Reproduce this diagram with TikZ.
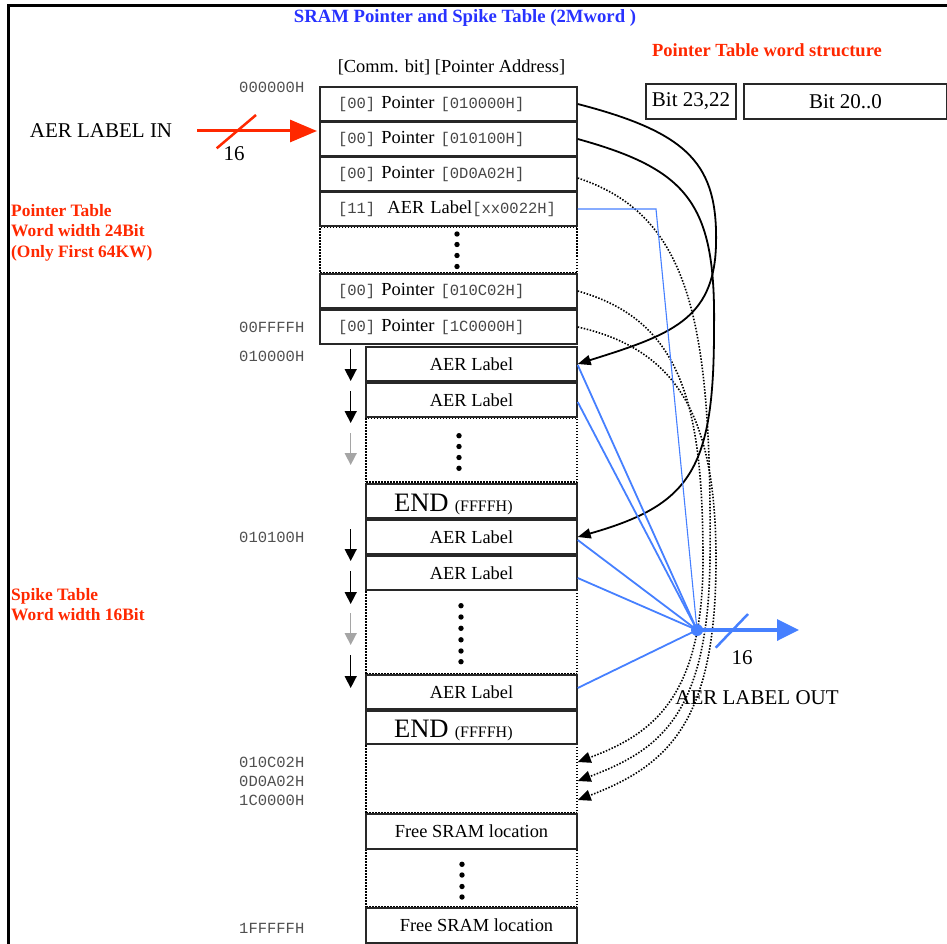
\documentclass[tikz,border=0pt]{standalone}
\usepackage{fontspec}
\setmainfont{Liberation Serif}
\setmonofont{Liberation Mono}
\usetikzlibrary{arrows.meta}
\definecolor{myred}{RGB}{255,40,0}
\definecolor{titleblue}{RGB}{40,50,255}
\definecolor{lineblue}{RGB}{70,128,255}
\definecolor{addrgray}{RGB}{80,80,80}
\definecolor{monogray}{RGB}{70,70,70}
\definecolor{boxline}{RGB}{40,40,40}
\definecolor{arrgray}{RGB}{165,165,165}
\newcommand{\mtt}[1]{{\ttfamily\fontsize{15.5}{17}\selectfont\color{monogray}#1}}
\begin{document}
\begin{tikzpicture}[x=1pt,y=-1pt,
  txt/.style={font=\fontsize{18.4}{21}\selectfont, inner sep=0pt},
  bigtxt/.style={font=\fontsize{21}{24}\selectfont, inner sep=0pt},
  addr/.style={font=\ttfamily\fontsize{15.5}{17}\selectfont, text=addrgray, anchor=west, inner sep=0pt},
  redhead/.style={font=\bfseries\fontsize{17.4}{20.7}\selectfont, text=myred, align=left, anchor=north west, inner sep=0pt},
  pcell/.style={draw=boxline, line width=1.4pt, minimum height=34pt, text width=221pt, inner xsep=18pt, inner ysep=0pt, align=left, font=\fontsize{18.4}{21}\selectfont},
  scell/.style={draw=boxline, line width=1.4pt, minimum height=34pt, minimum width=211pt, inner sep=0pt, font=\fontsize{18.4}{21}\selectfont},
  endcell/.style={scell, text width=155pt, inner xsep=28pt, inner ysep=0pt, align=left, text height=20pt, text depth=0pt},
  dcell/.style={draw=black, line width=1.5pt, dash pattern=on 1.5pt off 1.5pt, inner sep=0pt},
  bitbox/.style={draw=boxline, line width=1.3pt, minimum height=35pt, inner sep=0pt, font=\fontsize{21}{24}\selectfont},
  dnarrow/.style={line width=1.5pt, -{Triangle[length=12pt,width=12pt]}},
  ptrcurve/.style={line width=1.8pt, -{Triangle[length=13pt,width=10pt]}},
  dotcurve/.style={line width=1.6pt, dash pattern=on 1.5pt off 1.6pt, -{Triangle[length=13pt,width=11pt]}},
  fan/.style={draw=lineblue, line width=1.8pt},
  thinblue/.style={draw=lineblue, line width=1.1pt},
  redarrow/.style={draw=myred, line width=3pt, -{Triangle[length=27pt,width=22pt]}},
  outarrow/.style={draw=lineblue, line width=3.5pt, -{Triangle[length=22pt,width=21pt]}},
  slash/.style={line width=2.5pt}
]
\useasboundingbox (0,0) rectangle (947,944);
\draw[line width=2.7pt] (8.7,944) -- (8.7,5.3) -- (947,5.3);

% titles
\node[font=\bfseries\fontsize{18.7}{21}\selectfont, text=titleblue, inner sep=0pt] (title) at (465,18) {SRAM Pointer and Spike Table (2Mword )};
\node[font=\bfseries\fontsize{18.5}{21}\selectfont, text=myred, inner sep=0pt] (wstitle) at (767,50) {Pointer Table word structure};
\node[txt] (comm) at (451.5,67) {[Comm. bit] [Pointer Address]};
\node[bitbox, minimum width=90pt] (b1) at (691,101.5) {Bit 23,22};
\node[bitbox, minimum width=203pt] (b2) at (845.5,101.5) {Bit 20..0};

% side headings
\node[redhead] (pthead) at (11,204) {Pointer Table\\Word width 24Bit\\(Only First 64KW)};
\node[redhead] (sthead) at (11,588) {Spike Table\\Word width 16Bit};

% pointer table
\node[dcell, minimum width=257pt, minimum height=46pt] (pd) at (448.5,250) {};
\node[pcell] (p1) at (448.5,104) {\mbox{\mtt{[00]} Pointer \mtt{[010000H]}}};
\node[pcell] (p2) at (448.5,139) {\mbox{\mtt{[00]} Pointer \mtt{[010100H]}}};
\node[pcell] (p3) at (448.5,174) {\mbox{\mtt{[00]} Pointer \mtt{[0D0A02H]}}};
\node[pcell] (p4) at (448.5,209) {\mbox{\mtt{[11]}\ \ AER Label\mtt{[xx0022H]}}};
\node[pcell] (p5) at (448.5,291) {\mbox{\mtt{[00]} Pointer \mtt{[010C02H]}}};
\node[pcell] (p6) at (448.5,327) {\mbox{\mtt{[00]} Pointer \mtt{[1C0000H]}}};
\foreach \y in {234,244.5,255.5,266.5} \fill (457,\y) circle (2.7pt);

% spike table
\node[dcell, minimum width=211pt, minimum height=64pt] (sd1) at (471.5,450) {};
\node[dcell, minimum width=211pt, minimum height=84pt] (sd2) at (471.5,632) {};
\node[dcell, minimum width=211pt, minimum height=69pt] (sd3) at (471.5,778.5) {};
\node[dcell, minimum width=211pt, minimum height=58pt] (sd4) at (471.5,878) {};
\node[scell] (s1) at (471.5,364) {AER Label};
\node[scell] (s2) at (471.5,400) {AER Label};
\node[endcell] (e1) at (471.5,501) {\mbox{\fontsize{26.6}{28}\selectfont END \fontsize{16}{18}\selectfont(FFFFH)}};
\node[scell] (s3) at (471.5,537) {AER Label};
\node[scell] (s4) at (471.5,573) {AER Label};
\node[scell] (s5) at (471.5,692) {AER Label};
\node[endcell, minimum height=33pt] (e2) at (471.5,727.5) {\mbox{\fontsize{26.6}{28}\selectfont END \fontsize{16}{18}\selectfont(FFFFH)}};
\node[scell, minimum height=35pt] (f1) at (471.5,831.5) {Free SRAM location};
\node[scell, minimum height=35pt] (f2) at (471.5,925.5) {\hspace*{10pt}Free SRAM location};
\foreach \y in {435.7,446.5,457.5,468.3} \fill (459,\y) circle (2.7pt);
\foreach \y in {605.7,617,628.3,639.8,651,661.7} \fill (461,\y) circle (2.7pt);
\foreach \y in {864.3,875,886.5,897} \fill (462,\y) circle (2.7pt);

% addresses
\node[addr] (a0) at (239,87) {000000H};
\node[addr] (a1) at (239,327) {00FFFFH};
\node[addr] (a2) at (239,356) {010000H};
\node[addr] (a3) at (239,537) {010100H};
\node[addr] (a4) at (239,762) {010C02H};
\node[addr] (a5) at (239,781) {0D0A02H};
\node[addr] (a6) at (239,800) {1C0000H};
\node[addr] (a7) at (239,928) {1FFFFFH};

% down arrows
\foreach \a/\b/\c in {349/381/black, 391/423/black, 433/465/arrgray, 529/561/black, 571/604/black, 613/645/arrgray, 655/688/black}
  \draw[dnarrow, color=\c] (350.7,\a) -- (350.7,\b);

% input
\node[bigtxt] (inlab) at (101,131) {AER LABEL IN};
\coordinate (inL) at (197,131);
\coordinate (inR) at (317,131);
\draw[redarrow] (inL) -- (inR);
\draw[slash, draw=myred] (216.7,148.3) -- (256,115);
\node[bigtxt] (in16) at (234,154) {16};

% pointer curves (solid)
\draw[ptrcurve] (p1.east) .. controls (690,133) and (718,165) .. (716,245)
                .. controls (714,320) and (670,335) .. (s1.east);
\draw[ptrcurve] (p2.east) .. controls (690,170) and (716,205) .. (714,330)
                .. controls (714,470) and (690,505) .. (s3.east);

% pointer curves (dotted)
\draw[dotcurve] (p5.east) .. controls (680,320) and (703,400) .. (703,560)
                .. controls (703,700) and (650,735) .. ([yshift=16.5pt]sd3.east);
\draw[dotcurve] ([yshift=-4pt]p3.east) .. controls (690,215) and (712,320) .. (710,560)
                .. controls (708,715) and (660,750) .. ([yshift=-2.5pt]sd3.east);
\draw[dotcurve] (p6.east) .. controls (680,350) and (716,420) .. (716,560)
                .. controls (716,720) and (670,765) .. ([yshift=-21.5pt]sd3.east);

% output fan
\coordinate (J) at (697,630);
\coordinate (outE) at (799,630);
\coordinate (bend) at (656,209);
\draw[thinblue] (p4.east) -- (bend) -- (J);
\draw[fan] ([yshift=-1pt]s1.east) -- (J);
\draw[fan] ([yshift=-2pt]s2.east) -- (J);
\draw[fan] ([yshift=-3pt]s3.east) -- (J);
\draw[fan] ([yshift=-5pt]s4.east) -- (J);
\draw[fan] ([yshift=4pt]s5.east) -- (J);
\draw[outarrow] (J) -- (outE);
\fill[lineblue] (J) circle (6pt);
\draw[slash, draw=lineblue] (715.7,647.7) -- (748,614);
\node[bigtxt] (out16) at (742,658) {16};
\node[bigtxt] (outlab) at (757,698) {AER LABEL OUT};
\end{tikzpicture}
\end{document}
